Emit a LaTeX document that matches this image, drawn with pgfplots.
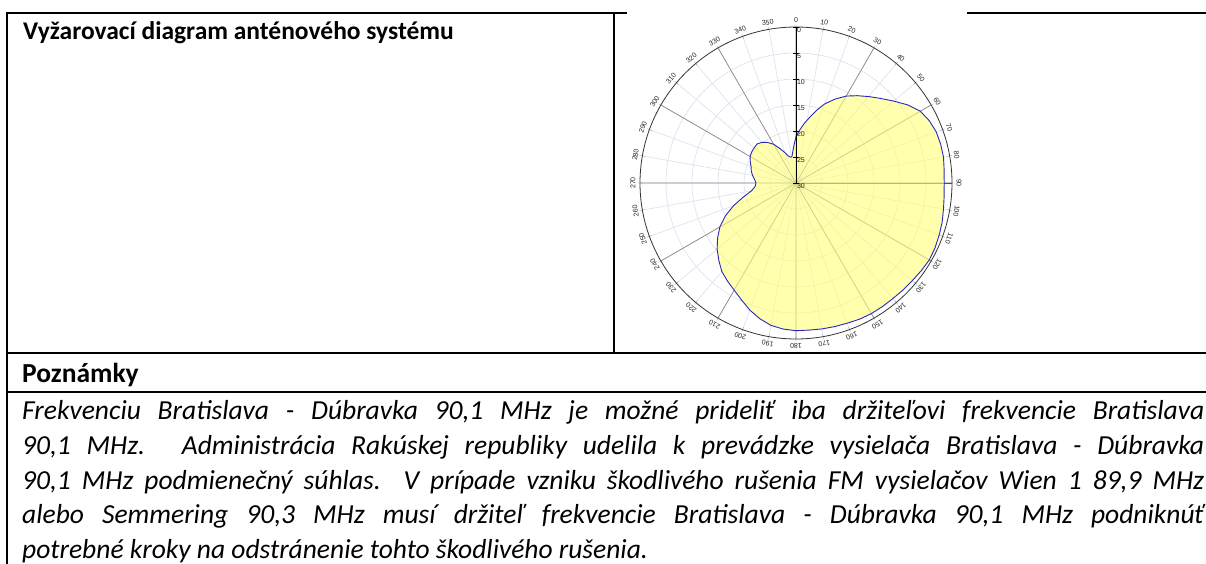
\documentclass[border=0pt]{standalone}
\usepackage{pgfplots}
\pgfplotsset{compat=1.18}
\usepackage{pgfplotstable}
\usepgfplotslibrary{polar}
\usepackage{fontspec}
\setmainfont{Carlito}
\newfontfamily\labfont{Liberation Sans}
\newcommand\labsize{\labfont\fontsize{7}{8}\selectfont}
\definecolor{gridlav}{RGB}{222,222,240}
\definecolor{gridgray}{RGB}{140,140,140}
\definecolor{patfill}{RGB}{255,255,120}
\definecolor{patline}{RGB}{40,40,190}

% azimuth (deg, clockwise from north), relative level r = 30 - attenuation (dB)
\pgfplotstableread{
az r
0 8.9
4 10.2
8 11.6
12 13.0
16 14.6
20 16.2
25 17.8
30 19.3
35 20.5
40 21.7
45 23.0
50 24.5
55 26.2
60 27.6
65 28.3
70 28.7
75 28.8
80 28.8
85 28.6
90 28.5
95 28.6
100 28.8
105 29.1
110 29.3
115 29.5
120 29.6
125 29.4
130 29.2
135 29.1
140 29.0
145 29.0
150 29.0
155 28.9
160 28.7
165 28.6
170 28.5
175 28.4
180 28.4
185 28.2
190 27.8
195 27.0
200 26.0
205 24.8
210 23.8
215 23.0
220 22.2
225 21.0
230 19.8
235 18.4
240 16.9
245 15.0
250 12.8
255 10.5
260 8.7
265 7.9
270 7.7
275 8.0
280 8.5
285 8.9
290 9.2
295 9.7
300 10.2
305 10.4
310 10.5
315 10.6
320 10.2
325 9.5
330 8.6
335 7.3
340 6.2
344 5.4
348 5.1
351 5.1
354 6.0
357 7.3
360 8.9
}\antdata

% 30-degree spokes (math angle, radius), drawn as diameters
\pgfplotstableread{
ang rad
90 30
270 30
nan nan
60 30
240 30
nan nan
30 30
210 30
nan nan
0 30
180 30
nan nan
-30 30
150 30
nan nan
-60 30
120 30
}\spokes

% vertical level axis (north) with ticks every 5 dB
\pgfplotstableread{
ang rad
90 0
90 5
90 10
90 15
90 20
90 25
90 30
}\axisdata

\begin{document}
\begin{tikzpicture}[x=1pt,y=1pt]
\useasboundingbox (0,0) rectangle (1206,564);
% table frame
\draw[line width=1.7pt] (1206,551) -- (7,551) -- (7,0);
\draw[line width=1.7pt] (614,551) -- (614,211);
\draw[line width=1.7pt] (7,211) -- (1206,211);
\draw[line width=1.7pt] (7,172) -- (1206,172);
% picture background covering the frame
\fill[white] (627,213) rectangle (967,564);

\begin{polaraxis}[
  at={(796pt,381pt)}, anchor=center,
  width=312pt, height=312pt, scale only axis,
  xmin=0, xmax=360, ymin=0, ymax=30,
  xtick={0,10,...,350},
  ytick={5,10,...,25},
  xticklabels=\empty, yticklabels=\empty,
  xmajorgrids=true, ymajorgrids=true,
  ymajorticks=false,
  major grid style={gridlav, line width=0.6pt},
  tick align=center, major tick length=5pt,
  axis line style={black!80, line width=0.8pt},
  unbounded coords=jump,
  clip=false,
]
\addplot[gridgray, line width=0.7pt] table[x=ang, y=rad] {\spokes};
\addplot[draw=patline, line width=0.9pt, fill=patfill, fill opacity=0.6]
  table[x expr={90-\thisrow{az}}, y=r] {\antdata};
\addplot[black, line width=0.8pt, mark=-, mark size=3pt]
  table[x=ang, y=rad] {\axisdata};
\foreach \a in {0,10,...,350}{
  \edef\tmp{\noexpand\node[font=\noexpand\labsize, inner sep=0pt, text=black!85, rotate=-\a] at (axis cs:{90-\a},31.35) {\a};}\tmp
}
\foreach \a in {0,5,...,30}{
  \edef\tmp{\noexpand\node[font=\noexpand\labsize, text=black!85, anchor=north west, inner sep=0.8pt] at (axis cs:90,{30-\a}) {\a};}\tmp
}
\end{polaraxis}

% texts
\node[anchor=base west, inner sep=0, font=\fontsize{25.5}{31}\selectfont\bfseries]
  at (23,524) {Vyžarovací diagram anténového systému};
\node[anchor=base west, inner sep=0, font=\fontsize{27.5}{33}\selectfont\bfseries]
  at (22,181) {Poznámky};
\begin{scope}[every node/.style={anchor=base west, inner sep=0, font=\fontsize{27.5}{33}\selectfont\itshape}]
\node at (22,144) {\makebox[1182pt][s]{Frekvenciu Bratislava - Dúbravka 90,1 MHz je možné prideliť iba držiteľovi frekvencie Bratislava}};
\node at (22,109) {\makebox[1182pt][s]{90,1 MHz. Administrácia Rakúskej republiky udelila k prevádzke vysielača Bratislava - Dúbravka}};
\node at (22,74.5) {\makebox[1182pt][s]{90,1 MHz podmienečný súhlas. V prípade vzniku škodlivého rušenia FM vysielačov Wien 1 89,9 MHz}};
\node at (22,40) {\makebox[1182pt][s]{alebo Semmering 90,3 MHz musí držiteľ frekvencie Bratislava - Dúbravka 90,1 MHz podniknúť}};
\node at (22,5.5) {potrebné kroky na odstránenie tohto škodlivého rušenia.};
\end{scope}
\end{tikzpicture}
\end{document}
